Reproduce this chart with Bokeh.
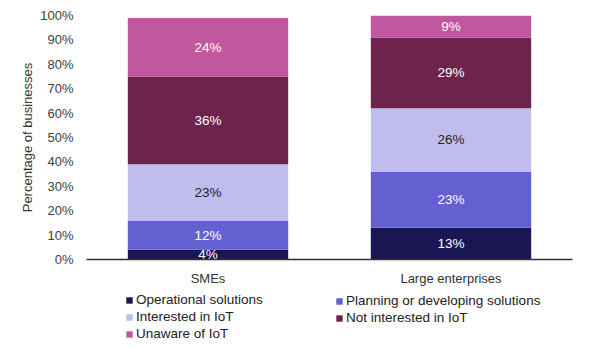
from bokeh.plotting import figure
from bokeh.layouts import column
from bokeh.models import ColumnDataSource, FactorRange, Legend, LegendItem, PrintfTickFormatter
from bokeh.embed import file_html
from bokeh.resources import INLINE
from bokeh.core.properties import value

categories = ["SMEs", "Large enterprises"]
series = ["Operational solutions", "Planning or developing solutions",
          "Interested in IoT", "Not interested in IoT", "Unaware of IoT"]
operational = [4, 13]
planning = [12, 23]
interested = [23, 26]
not_interested = [36, 29]
unaware = [24, 9]
colors = ["#1a1654", "#6560d2", "#c0bdee", "#6e234d", "#c1579e"]
label_colors = ["#ffffff", "#ffffff", "#222222", "#ffffff", "#ffffff"]
y_ticks = list(range(0, 101, 10))

FONT = "Liberation Sans"
vals = [operational, planning, interested, not_interested, unaware]
keys = ["s0", "s1", "s2", "s3", "s4"]
data = {"cat": categories}
for k, v in zip(keys, vals):
    data[k] = v
src = ColumnDataSource(data)

p = figure(x_range=FactorRange(*categories, range_padding=0), y_range=(0, 100),
           width=600, height=290, min_border_left=86, min_border_top=15,
           min_border_right=28, min_border_bottom=31,
           output_backend="svg", toolbar_location=None)
p.vbar_stack(keys, x="cat", width=0.66, color=colors, source=src, line_color=None)

# segment labels
for i, k in enumerate(keys):
    mids, texts = [], []
    for j in range(len(categories)):
        base = sum(vals[m][j] for m in range(i))
        mids.append(base + vals[i][j] / 2.0)
        texts.append(f"{vals[i][j]}%")
    ls = ColumnDataSource(dict(x=categories, y=mids, t=texts))
    p.text(x="x", y="y", text="t", source=ls, text_align="center", text_baseline="middle",
           text_color=label_colors[i], text_font=value(FONT), text_font_size="13.5px")

p.xgrid.visible = False
p.ygrid.visible = False
p.outline_line_color = None

p.yaxis.ticker = y_ticks
p.yaxis.formatter = PrintfTickFormatter(format="%d%%")
p.yaxis.axis_line_color = None
p.yaxis.major_tick_line_color = None
p.yaxis.minor_tick_line_color = None
p.yaxis.major_label_standoff = 7
p.yaxis.major_label_text_font = FONT
p.yaxis.major_label_text_font_size = "13px"
p.yaxis.major_label_text_color = "#404040"
p.yaxis.axis_label = "Percentage of businesses"
p.yaxis.axis_label_text_font = FONT
p.yaxis.axis_label_text_font_size = "13px"
p.yaxis.axis_label_text_font_style = "normal"
p.yaxis.axis_label_text_color = "#333333"
p.yaxis.axis_label_standoff = 2

p.xaxis.axis_line_color = "#333333"
p.xaxis.axis_line_width = 1.5
p.xaxis.major_tick_line_color = None
p.xaxis.minor_tick_line_color = None
p.xaxis.major_label_standoff = 5
p.xaxis.major_label_text_font = FONT
p.xaxis.major_label_text_font_size = "13px"
p.xaxis.major_label_text_color = "#333333"

# legend in its own strip below the chart (frame aligned with the chart's frame)
q = figure(width=600, height=60, x_range=(0, 1), y_range=(0, 1),
           x_axis_type=None, y_axis_type=None, min_border=0,
           output_backend="svg", toolbar_location=None)
q.outline_line_color = None
q.xgrid.visible = False
q.ygrid.visible = False
dummies = [q.vbar(x=[-5], top=[0], width=0.1, fill_color=c, line_color=None) for c in colors]

def make_legend(idx, x, y):
    items = [LegendItem(label=series[i], renderers=[dummies[i]]) for i in idx]
    lg = Legend(items=items, location=(x, y),
                label_text_font=FONT, label_text_font_size="13.5px", label_text_color="#222222",
                glyph_width=8, glyph_height=8, label_height=14, label_standoff=3,
                spacing=2, padding=2, margin=0, border_line_color=None,
                background_fill_alpha=0)
    q.add_layout(lg)

make_legend([0, 2, 4], 39, 9)
make_legend([1, 3], 249, 25)

open("out.html", "w").write(file_html(column(p, q, spacing=0), INLINE))
